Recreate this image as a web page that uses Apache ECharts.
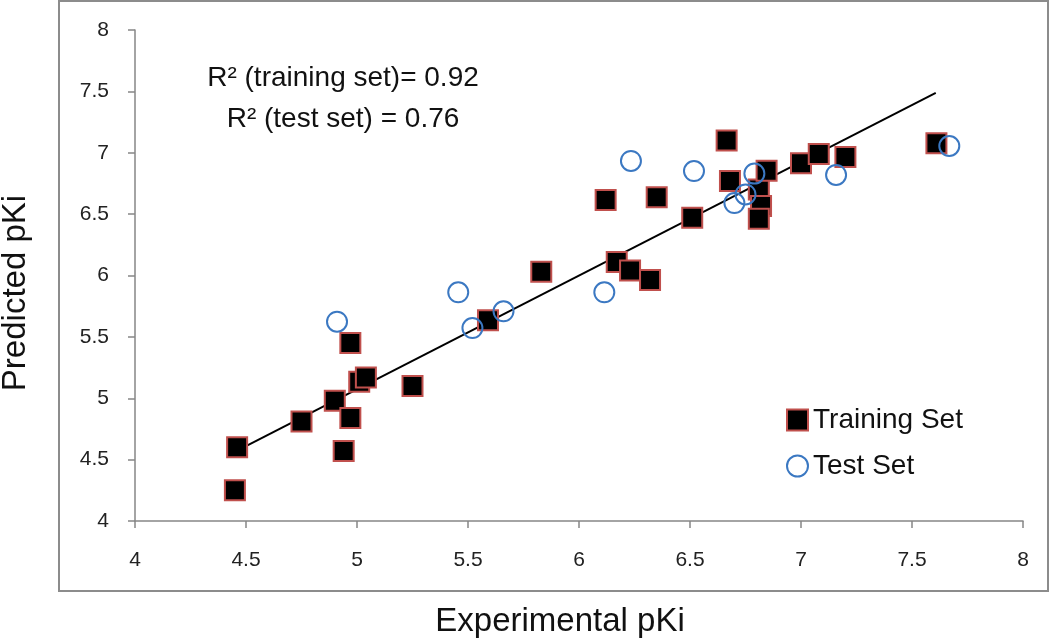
<!DOCTYPE html>
<html><head><meta charset="utf-8">
<script src="https://cdn.jsdelivr.net/npm/echarts@6/dist/echarts.min.js"></script>
<style>html,body{margin:0;padding:0;background:#fff}#c{width:1050px;height:641px}</style>
</head><body><div id="c"></div>
<script>
// Training set: experimental pKi / predicted pKi
const trainX = [4.45, 4.46, 4.75, 4.90, 4.94, 4.97, 4.97, 5.01, 5.04, 5.25, 5.59, 5.83, 6.12, 6.17, 6.23, 6.32, 6.35, 6.51, 6.665, 6.68, 6.81, 6.82, 6.81, 6.845, 7.00, 7.08, 7.20, 7.61];
const trainY = [4.25, 4.60, 4.81, 4.98, 4.57, 4.84, 5.45, 5.135, 5.17, 5.10, 5.635, 6.03, 6.615, 6.11, 6.04, 5.963, 6.637, 6.47, 7.10, 6.77, 6.70, 6.566, 6.463, 6.854, 6.915, 6.99, 6.965, 7.078];
// Test set
const testX = [4.91, 5.456, 5.52, 5.66, 6.114, 6.234, 6.518, 6.70, 6.75, 6.79, 7.158, 7.668];
const testY = [5.624, 5.863, 5.572, 5.708, 5.863, 6.933, 6.851, 6.59, 6.66, 6.83, 6.819, 7.055];
// Regression line end points
const fitX = [4.48, 7.607];
const fitY = [4.592, 7.487];
const xTicks = [4, 4.5, 5, 5.5, 6, 6.5, 7, 7.5, 8];
const yTicks = [4, 4.5, 5, 5.5, 6, 6.5, 7, 7.5, 8];

const FONT = "'Liberation Sans Narrow','Liberation Sans','DejaVu Sans Condensed',sans-serif";
const zip = (a, b) => a.map((v, i) => [v, b[i]]);
const chart = echarts.init(document.getElementById('c'));
const axisCommon = {
  type: 'value', min: 4, max: 8, interval: 0.5,
  axisLine: { show: true, lineStyle: { color: '#868686', width: 1.5 } },
  axisTick: { show: true, length: 7, lineStyle: { color: '#868686', width: 1.5 } },
  splitLine: { show: false },
  axisLabel: { color: '#222', fontSize: 21, fontFamily: FONT, formatter: v => String(v) }
};
chart.setOption({
  animation: false,
  grid: { left: 135, right: 27, top: 30, bottom: 120 },
  xAxis: Object.assign({}, axisCommon, { axisLabel: Object.assign({}, axisCommon.axisLabel, { margin: 29 }) }),
  yAxis: Object.assign({}, axisCommon, { axisLabel: Object.assign({}, axisCommon.axisLabel, { margin: 26 }) }),
  legend: {
    orient: 'vertical', left: 781, top: 401, itemGap: 18, itemWidth: 21, itemHeight: 21,
    textStyle: { fontSize: 28, fontFamily: FONT, color: '#111' },
    data: ['Training Set', 'Test Set']
  },
  graphic: [
    { type: 'rect', shape: { x: 59, y: 1, width: 989, height: 590 }, style: { fill: 'none', stroke: '#8c8c8c', lineWidth: 2 }, silent: true },
    { type: 'text', x: 343, y: 78, style: { text: 'R² (training set)= 0.92', fontSize: 28, fontFamily: FONT, fill: '#111', align: 'center', verticalAlign: 'middle' } },
    { type: 'text', x: 343, y: 119, style: { text: 'R² (test set) = 0.76', fontSize: 28, fontFamily: FONT, fill: '#111', align: 'center', verticalAlign: 'middle' } },
    { type: 'text', x: 560, y: 622, style: { text: 'Experimental pKi', fontSize: 33, fontFamily: FONT, fill: '#111', align: 'center', verticalAlign: 'middle' } },
    { type: 'text', x: 16, y: 293, rotation: Math.PI / 2, style: { text: 'Predicted pKi', fontSize: 33, fontFamily: FONT, fill: '#111', align: 'center', verticalAlign: 'middle' } }
  ],
  series: [
    { name: 'Trend', type: 'line', data: zip(fitX, fitY), symbol: 'none', lineStyle: { color: '#000', width: 2 }, z: 1 },
    { name: 'Training Set', type: 'scatter', data: zip(trainX, trainY), symbol: 'rect', symbolSize: 20,
      itemStyle: { color: '#000', borderColor: '#c0504d', borderWidth: 2, opacity: 1 }, z: 3 },
    { name: 'Test Set', type: 'scatter', data: zip(testX, testY), symbol: 'circle', symbolSize: 20,
      itemStyle: { color: 'rgba(255,255,255,0)', borderColor: '#3b78c2', borderWidth: 2, opacity: 1 }, z: 4 }
  ]
});
</script></body></html>
